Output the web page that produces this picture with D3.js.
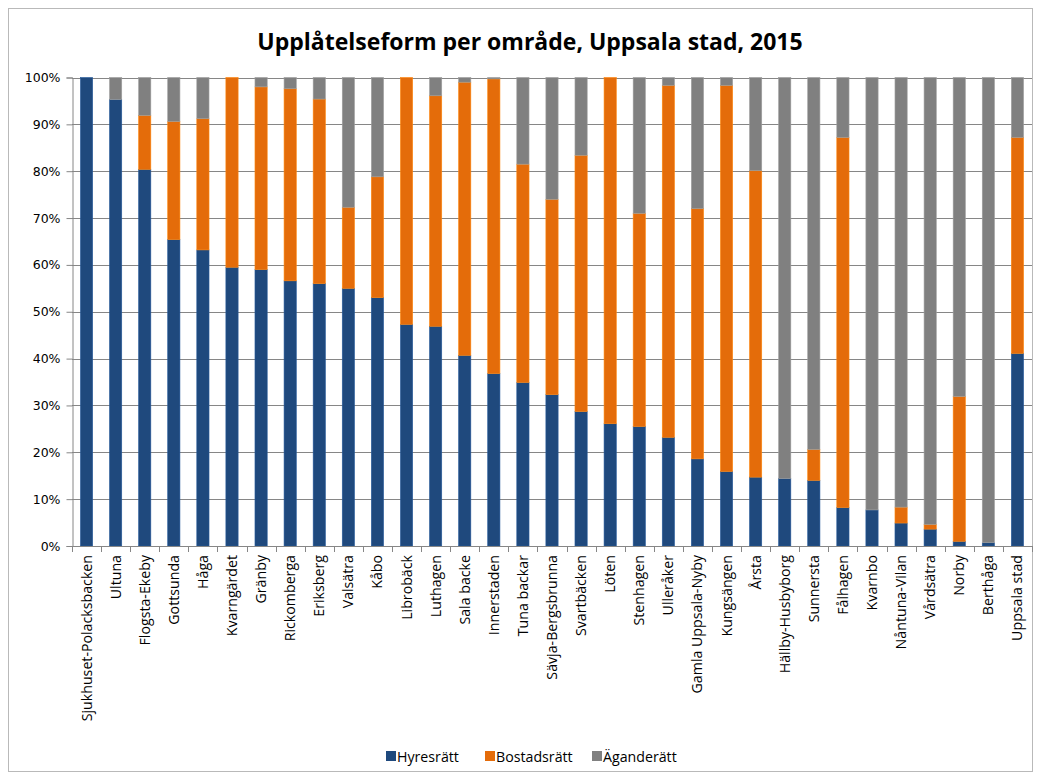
<!DOCTYPE html>
<html>
<head>
<meta charset="utf-8">
<script src="https://cdn.jsdelivr.net/npm/d3@7"></script>
<style>
  html, body { margin: 0; padding: 0; background: #fff; }
  svg { display: block; }
</style>
</head>
<body>
<svg id="chart" width="1037" height="775"></svg>
<script>
const categories = ["Sjukhuset-Polacksbacken","Ultuna","Flogsta-Ekeby","Gottsunda","Håga","Kvarngärdet","Gränby","Rickomberga","Eriksberg","Valsätra","Kåbo","Librobäck","Luthagen","Sala backe","Innerstaden","Tuna backar","Sävja-Bergsbrunna","Svartbäcken","Löten","Stenhagen","Ulleråker","Gamla Uppsala-Nyby","Kungsängen","Årsta","Hällby-Husbyborg","Sunnersta","Fålhagen","Kvarnbo","Nåntuna-Vilan","Vårdsätra","Norby","Berthåga","Uppsala stad"];
const hyresratt   = [100, 95.3, 80.4, 65.4, 63.2, 59.5, 59.0, 56.6, 56.0, 55.0, 53.0, 47.3, 46.9, 40.7, 36.8, 34.9, 32.3, 28.7, 26.1, 25.5, 23.2, 18.6, 15.9, 14.7, 14.4, 14.0, 8.2, 7.7, 4.9, 3.6, 1.0, 0.7, 41.1];
const bostadsratt = [0, 0, 11.5, 25.2, 28.0, 40.5, 39.0, 41.0, 39.4, 17.3, 25.8, 52.7, 49.2, 58.3, 62.9, 46.6, 41.7, 54.7, 73.9, 45.5, 75.1, 53.4, 82.4, 65.4, 0, 6.6, 79.0, 0, 3.4, 1.0, 30.9, 0, 46.1];
const aganderatt  = [0, 4.7, 8.1, 9.4, 8.8, 0, 2.0, 2.4, 4.6, 27.7, 21.2, 0, 3.9, 1.0, 0.3, 18.5, 26.0, 16.6, 0, 29.0, 1.7, 28.0, 1.7, 19.9, 85.6, 79.4, 12.8, 92.3, 91.7, 95.4, 68.1, 99.3, 12.8];
const seriesNames = ["Hyresrätt", "Bostadsrätt", "Äganderätt"];
const seriesColors = ["#1F497D", "#E46C0A", "#808080"];
const yTicks = [0, 0.1, 0.2, 0.3, 0.4, 0.5, 0.6, 0.7, 0.8, 0.9, 1.0];
const titleText = "Upplåtelseform per område, Uppsala stad, 2015";

const svg = d3.select("#chart");
const m = { left: 72, right: 1032, top: 77.5, bottom: 546 };

// outer border
svg.append("rect").attr("x", 8.5).attr("y", 8.5).attr("width", 1024).attr("height", 763)
  .attr("fill", "#fff").attr("stroke", "#b9b9b9").attr("stroke-width", 1);

// title
svg.append("text").attr("x", 530).attr("y", 50).attr("text-anchor", "middle")
  .attr("font-family", "Open Sans, sans-serif").attr("font-weight", "bold").attr("font-size", 23)
  .attr("fill", "#000").text(titleText);

const rows = categories.map((c, i) => ({ cat: c, "Hyresrätt": hyresratt[i], "Bostadsrätt": bostadsratt[i], "Äganderätt": aganderatt[i] }));
const totals = rows.map(r => r["Hyresrätt"] + r["Bostadsrätt"] + r["Äganderätt"]);
const norm = rows.map((r, i) => ({ cat: r.cat, "Hyresrätt": r["Hyresrätt"] / totals[i], "Bostadsrätt": r["Bostadsrätt"] / totals[i], "Äganderätt": r["Äganderätt"] / totals[i] }));
const stacked = d3.stack().keys(seriesNames)(norm);

const x = d3.scaleBand().domain(categories).range([m.left, m.right]).paddingInner(0.58).paddingOuter(0.29);
const y = d3.scaleLinear().domain([0, 1]).range([m.bottom, m.top]);

// gridlines
svg.append("g").selectAll("line").data(yTicks.filter(t => t > 0)).join("line")
  .attr("x1", m.left).attr("x2", m.right)
  .attr("y1", d => Math.round(y(d)) + 0.5).attr("y2", d => Math.round(y(d)) + 0.5)
  .attr("stroke", "#868686").attr("stroke-width", 1);

// bars
const colorOf = d3.scaleOrdinal().domain(seriesNames).range(seriesColors);
svg.append("g").selectAll("g").data(stacked).join("g")
  .attr("fill", d => colorOf(d.key))
  .selectAll("rect").data(d => d.map(v => ({ v, key: d.key }))).join("rect")
  .attr("x", d => x(d.v.data.cat))
  .attr("width", x.bandwidth())
  .attr("y", d => y(d.v[1]))
  .attr("height", d => Math.max(0, y(d.v[0]) - y(d.v[1])))
  .attr("stroke", d => d3.color(colorOf(d.key)).brighter(0.6))
  .attr("stroke-width", d => (d.v[1] - d.v[0]) > 0 ? 0.6 : 0);

// y axis
const yAxis = d3.axisLeft(y).tickValues(yTicks).tickFormat(d3.format(".0%")).tickSize(6).tickPadding(6);
const gy = svg.append("g").attr("transform", `translate(${m.left + 0.5},0)`).call(yAxis);
gy.select(".domain").attr("stroke", "#868686");
gy.selectAll(".tick line").attr("stroke", "#868686");
gy.selectAll("text").attr("font-family", "DejaVu Sans, Verdana, sans-serif").attr("font-size", 12.5).attr("fill", "#000");

// x axis line
svg.append("line").attr("x1", m.left).attr("x2", m.right + 0.5).attr("y1", m.bottom + 0.5).attr("y2", m.bottom + 0.5)
  .attr("stroke", "#868686");
// x tick marks at category boundaries
const bounds = d3.range(categories.length + 1).map(i => m.left + i * (m.right - m.left) / categories.length);
svg.append("g").selectAll("line").data(bounds).join("line")
  .attr("x1", d => Math.round(d) + 0.5).attr("x2", d => Math.round(d) + 0.5)
  .attr("y1", m.bottom).attr("y2", m.bottom + 6).attr("stroke", "#868686");

// x labels
svg.append("g").selectAll("text").data(categories).join("text")
  .attr("transform", d => `translate(${x(d) + x.bandwidth() / 2 + 5},${m.bottom + 9}) rotate(-90)`)
  .attr("text-anchor", "end")
  .attr("font-family", "Open Sans, sans-serif").attr("font-size", 14.2).attr("fill", "#000")
  .text(d => d);

// legend
const legendItems = [
  { name: seriesNames[0], color: seriesColors[0], x: 386 },
  { name: seriesNames[1], color: seriesColors[1], x: 485 },
  { name: seriesNames[2], color: seriesColors[2], x: 592 }
];
const lg = svg.append("g").selectAll("g").data(legendItems).join("g")
  .attr("transform", d => `translate(${d.x},751)`);
lg.append("rect").attr("width", 10).attr("height", 10).attr("fill", d => d.color);
lg.append("text").attr("x", 11).attr("y", 10.5).attr("font-family", "Open Sans, sans-serif").attr("font-size", 14.2)
  .attr("fill", "#000").text(d => d.name);
</script>
</body>
</html>
